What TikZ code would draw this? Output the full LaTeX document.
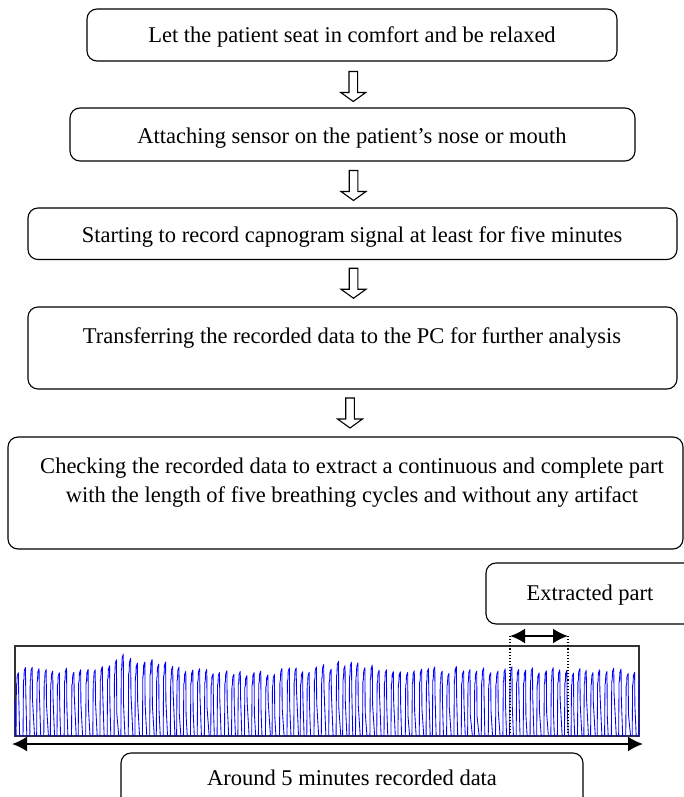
\documentclass[tikz,border=0pt]{standalone}
\usepackage{fontspec}
\setmainfont{Liberation Serif}
\usetikzlibrary{arrows.meta,calc}
\begin{document}
\begin{tikzpicture}[x=1pt,y=-1pt,
  box/.style={draw, line width=1.1pt, rounded corners=10pt, inner sep=0pt},
  txt/.style={font=\fontsize{22.5}{29}\selectfont, align=center, inner sep=0pt},
  downarr/.pic={\draw[line width=1.1pt, fill=white] (-4.3,-15) -- (-4.3,6) -- (-12.5,6) -- (0,15) -- (12.5,6) -- (4.3,6) -- (4.3,-15) -- cycle;},
  sig/.style={blue, line width=0.85pt, line join=round},
  dblarrow/.style={line width=2pt, {Latex[length=15pt,width=15pt]}-{Latex[length=15pt,width=15pt]}}
]
\useasboundingbox (0,0) rectangle (684,797);
\clip (0,0) rectangle (684,797);
\fill[white] (0,0) rectangle (684,797);

% flow boxes
\node[box, minimum width=530, minimum height=52] (b1) at (352,35) {};
\node[box, minimum width=565, minimum height=53] (b2) at (352.5,134.5) {};
\node[box, minimum width=649, minimum height=51.5] (b3) at (352.5,233.75) {};
\node[box, minimum width=649, minimum height=82] (b4) at (352.5,348) {};
\node[box, minimum width=675, minimum height=112] (b5) at (345.5,493) {};
\node[box, minimum width=208, minimum height=61] (ext) at (590,593.5) {};
\node[box, minimum width=462, minimum height=62] (bot) at (352,784) {};

% texts
\node[txt, anchor=base] (t1) at (352,43) {Let the patient seat in comfort and be relaxed};
\node[txt, anchor=base] (t2) at (352,143) {Attaching sensor on the patient’s nose or mouth};
\node[txt, anchor=base] (t3) at (352,242) {Starting to record capnogram signal at least for five minutes};
\node[txt, anchor=base] (t4) at (352,343) {Transferring the recorded data to the PC for further analysis};
\node[txt] (t5) at (352,482.3) {Checking the recorded data to extract a continuous and complete part\\with the length of five breathing cycles and without any artifact};
\node[txt, anchor=base] (t6) at (590,600) {Extracted part};
\node[txt, anchor=base] (t7) at (352,785) {Around 5 minutes recorded data};

% hollow down arrows between boxes
\pic at ($(b1.south)!0.5!(b2.north)+(1,2)$) {downarr};
\pic at ($(b2.south)!0.5!(b3.north)+(1,1)$) {downarr};
\pic at ($(b3.south)!0.5!(b4.north)+(1,0)$) {downarr};
\pic at ($(b4.south)!0.5!(b5.north)+(1,0)$) {downarr};

% signal panel
\node[draw=black!80, line width=1.4pt, minimum width=624, minimum height=90, inner sep=0pt] (sig) at (327,691) {};
\begin{scope}
  \clip (sig.north west) rectangle (sig.south east);
  \pgfmathsetseed{21}
  \draw[sig] (15,700) -- (16,736);
  \foreach \i [remember=\xn as \xo (initially 16)] in {0,...,92}{
    \pgfmathsetmacro\xn{\xo+6.3+1.2*rnd}
    \pgfmathsetmacro\h{min(89,66+3.5*rand+18*max(0,1-abs(\xo-122)/16)+9*max(0,1-abs(\xo-150)/35)+7*max(0,1-abs(\xo-345)/40)-3*max(0,1-abs(\xo-240)/50))}
    \pgfmathsetmacro\d{0.3+0.4*rnd}
    \pgfmathsetmacro\b{0.03*rnd}
    \pgfmathsetmacro\w{0.8+1.4*rnd}
    \draw[sig] (\xo,736) -- (\xo+0.4,736-0.8*\h) -- (\xo+0.9,736-0.83*\h) -- (\xo+1.2,736-0.95*\h) -- (\xo+2.4,736-\h) -- (\xo+2.7,736-\d*\h) -- (\xo+2.7+\w,736-\b*\h) -- (\xo+3.1+\w,736) -- (\xn,736);
  }
\end{scope}

% extracted part markers
\coordinate (e1) at (510,636);
\coordinate (e2) at (568,636);
\coordinate (e1b) at (510,733);
\coordinate (e2b) at (568,733);
\draw[line width=1.1pt, dotted] (e1) -- (e1b);
\draw[line width=1.1pt, dotted] (e2) -- (e2b);
\draw[dblarrow] (e1) -- (e2);

% whole-record arrow
\coordinate (L) at (12,744);
\coordinate (R) at (643,744);
\draw[dblarrow] (L) -- (R);
\end{tikzpicture}
\end{document}
